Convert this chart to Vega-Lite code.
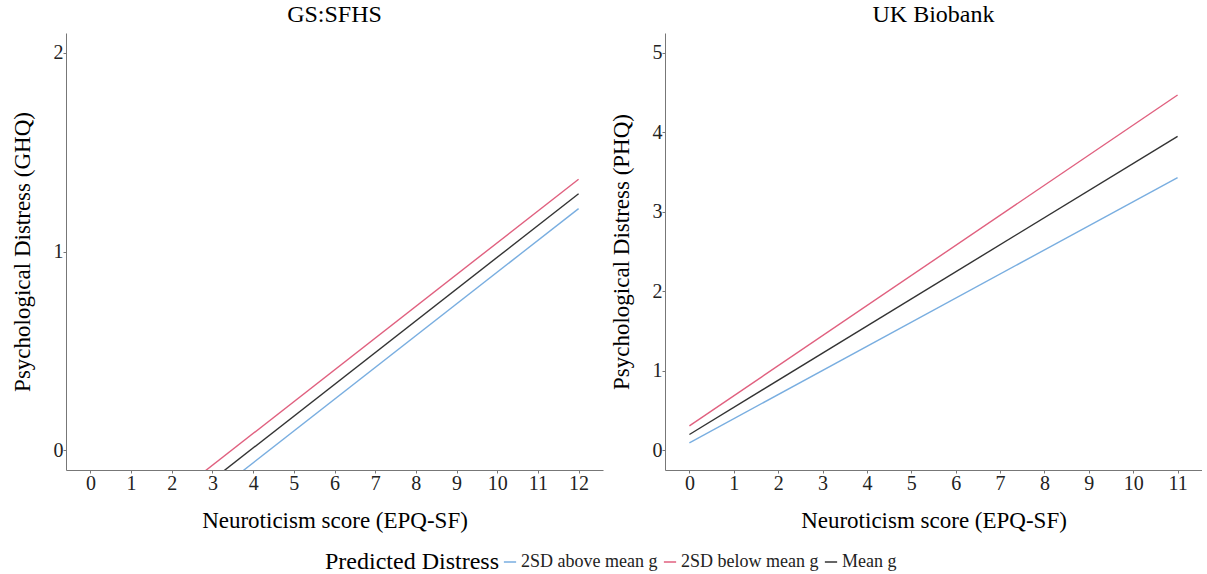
{
  "$schema": "https://vega.github.io/schema/vega-lite/v6.json",
  "padding": {"left": 11, "top": 3, "right": 0, "bottom": 0},
  "background": "white",
  "datasets": {
    "gs": [
      {"group": "2SD above mean g", "neuro": 0, "distress": -0.704},
      {"group": "2SD above mean g", "neuro": 12, "distress": 1.216},
      {"group": "2SD below mean g", "neuro": 0, "distress": -0.556},
      {"group": "2SD below mean g", "neuro": 12, "distress": 1.364},
      {"group": "Mean g", "neuro": 0, "distress": -0.629},
      {"group": "Mean g", "neuro": 12, "distress": 1.291}
    ],
    "ukb": [
      {"group": "2SD above mean g", "neuro": 0, "distress": 0.092},
      {"group": "2SD above mean g", "neuro": 11, "distress": 3.43},
      {"group": "2SD below mean g", "neuro": 0, "distress": 0.305},
      {"group": "2SD below mean g", "neuro": 11, "distress": 4.47},
      {"group": "Mean g", "neuro": 0, "distress": 0.197},
      {"group": "Mean g", "neuro": 11, "distress": 3.95}
    ]
  },
  "spacing": 7,
  "hconcat": [
    {
      "title": {"text": "GS:SFHS", "anchor": "middle"},
      "width": 537,
      "height": 437,
      "data": {"name": "gs"},
      "mark": {"type": "line", "clip": true, "strokeWidth": 1.4},
      "encoding": {
        "x": {"field": "neuro", "type": "quantitative", "scale": {"domain": [-0.6, 12.6], "nice": false, "zero": false},
              "axis": {"title": "Neuroticism score (EPQ-SF)", "values": [0,1,2,3,4,5,6,7,8,9,10,11,12]}},
        "y": {"field": "distress", "type": "quantitative", "scale": {"domain": [-0.1, 2.1], "nice": false, "zero": false},
              "axis": {"title": "Psychological Distress (GHQ)", "values": [0,1,2]}},
        "color": {"field": "group", "type": "nominal",
                  "scale": {"domain": ["2SD above mean g", "2SD below mean g", "Mean g"], "range": ["#79aee0", "#e0607f", "#333333"]},
                  "legend": {"title": "Predicted Distress", "labelFont": "Liberation Serif", "titleFont": "Liberation Serif"}}
      }
    },
    {
      "title": {"text": "UK Biobank", "anchor": "middle"},
      "width": 537,
      "height": 437,
      "data": {"name": "ukb"},
      "mark": {"type": "line", "clip": true, "strokeWidth": 1.4},
      "encoding": {
        "x": {"field": "neuro", "type": "quantitative", "scale": {"domain": [-0.55, 11.55], "nice": false, "zero": false},
              "axis": {"title": "Neuroticism score (EPQ-SF)", "values": [0,1,2,3,4,5,6,7,8,9,10,11]}},
        "y": {"field": "distress", "type": "quantitative", "scale": {"domain": [-0.25, 5.25], "nice": false, "zero": false},
              "axis": {"title": "Psychological Distress (PHQ)", "values": [0,1,2,3,4,5]}},
        "color": {"field": "group", "type": "nominal",
                  "scale": {"domain": ["2SD above mean g", "2SD below mean g", "Mean g"], "range": ["#79aee0", "#e0607f", "#333333"]},
                  "legend": {"title": "Predicted Distress", "labelFont": "Liberation Serif", "titleFont": "Liberation Serif"}}
      }
    }
  ],
  "config": {
    "font": "Liberation Serif",
    "view": {"stroke": null},
    "title": {"font": "Liberation Serif", "fontSize": 24, "fontWeight": "normal", "color": "#000", "offset": 6},
    "axis": {
      "labelFont": "Liberation Serif", "titleFont": "Liberation Serif",
      "labelFontSize": 20, "titleFontSize": 23, "titleFontWeight": "normal",
      "labelColor": "#222", "titleColor": "#000",
      "domainColor": "#777", "tickColor": "#777", "tickSize": 3, "grid": false, "labelPadding": 0
    },
    "axisX": {"titlePadding": 16},
    "axisY": {"titlePadding": 19},
    "legend": {
      "orient": "none", "legendX": 259, "legendY": 520, "direction": "horizontal",
      "titleOrient": "left", "titleFont": "Liberation Serif", "titleFontSize": 24, "titleFontWeight": "normal",
      "titleColor": "#000", "labelFont": "Liberation Serif", "labelFontSize": 18, "labelColor": "#222",
      "symbolType": "stroke", "symbolStrokeWidth": 1.5, "symbolSize": 150, "columnPadding": 2, "labelOffset": 2,
      "titlePadding": 2
    }
  }
}
